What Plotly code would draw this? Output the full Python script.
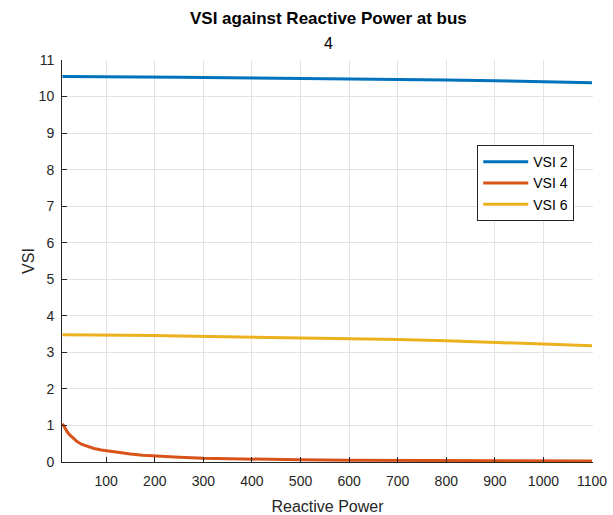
import plotly.graph_objects as go

# Reactive power sample points and voltage stability index per bus
q_vals = [10, 15, 20, 25, 30, 35, 40, 50, 60, 75, 90, 100, 125, 150, 175, 200,
          250, 300, 400, 500, 600, 700, 800, 900, 1000, 1100]
vsi_2 = [10.55, 10.55, 10.55, 10.55, 10.55, 10.55, 10.55, 10.55, 10.55, 10.55,
         10.54, 10.54, 10.54, 10.54, 10.53, 10.53, 10.53, 10.52, 10.51, 10.50,
         10.48, 10.46, 10.45, 10.43, 10.41, 10.38]
vsi_4 = [1.05, 0.92, 0.82, 0.74, 0.67, 0.61, 0.56, 0.48, 0.43, 0.37, 0.33,
         0.31, 0.26, 0.22, 0.185, 0.16, 0.13, 0.10, 0.075, 0.06, 0.05, 0.042,
         0.036, 0.031, 0.027, 0.024]
vsi_6 = [3.48, 3.48, 3.48, 3.48, 3.48, 3.48, 3.48, 3.48, 3.48, 3.47, 3.47,
         3.47, 3.47, 3.47, 3.46, 3.46, 3.45, 3.44, 3.42, 3.40, 3.38, 3.35,
         3.32, 3.28, 3.23, 3.18]

series = [("VSI 2", vsi_2, "#0072BD"),
          ("VSI 4", vsi_4, "#D95319"),
          ("VSI 6", vsi_6, "#EDB120")]

x_ticks = list(range(100, 1101, 100))
y_ticks = list(range(0, 12))

FONT = "Liberation Sans, Arial"

fig = go.Figure()
for name, vals, color in series:
    fig.add_trace(go.Scatter(x=q_vals, y=vals, mode="lines", name=name,
                             line=dict(color=color, width=3)))

axis_common = dict(showgrid=True, gridcolor="#e3e3e3", gridwidth=1,
                   showline=True, linecolor="#262626", linewidth=1,
                   ticks="inside", ticklen=5, tickcolor="#262626",
                   zeroline=False, automargin=False,
                   tickfont=dict(family=FONT, size=14, color="#262626"))

fig.update_layout(
    width=613, height=515,
    margin=dict(l=62, r=20, t=60, b=53),
    paper_bgcolor="white", plot_bgcolor="white",
    font=dict(family=FONT, color="#262626"),
    xaxis=dict(range=[9, 1102], tickvals=x_ticks, ticklabelstandoff=6,
               title=dict(text="Reactive Power", font=dict(size=16), standoff=14),
               **axis_common),
    yaxis=dict(range=[0, 11], tickvals=y_ticks, ticklabelstandoff=4,
               title=dict(text="VSI", font=dict(size=16), standoff=0),
               **axis_common),
    legend=dict(x=0.782, y=0.788, xanchor="left", yanchor="top",
                bgcolor="white", bordercolor="#262626", borderwidth=1,
                font=dict(size=14, color="#000000"),
                tracegroupgap=0, itemwidth=45),
    showlegend=True,
)

# Two-line title: bold heading with the bus number underneath
fig.add_annotation(text="<b>VSI against Reactive Power at bus</b>", xref="paper", yref="paper",
                   x=0.5, y=1, xshift=1, yshift=42, showarrow=False, yanchor="middle",
                   font=dict(family=FONT, size=17, color="#000000"))
fig.add_annotation(text="4", xref="paper", yref="paper",
                   x=0.5, y=1, xshift=1, yshift=17, showarrow=False, yanchor="middle",
                   font=dict(family=FONT, size=16, color="#000000"))

fig.write_html("out.html")
